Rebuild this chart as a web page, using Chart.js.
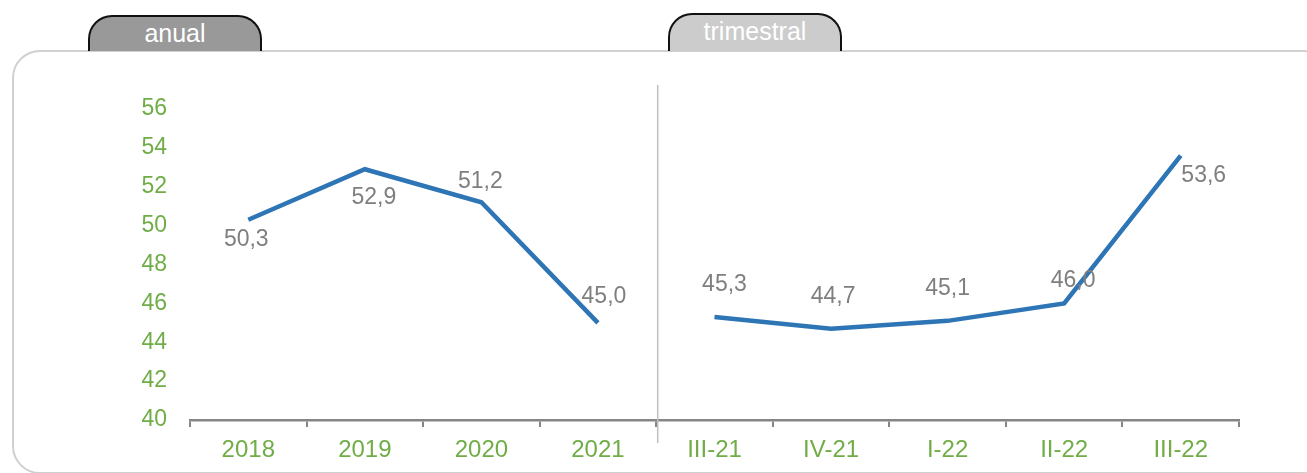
<!DOCTYPE html>
<html>
<head>
<meta charset="utf-8">
<script src="https://cdn.jsdelivr.net/npm/chart.js@4/dist/chart.umd.min.js"></script>
<style>
  html, body { margin: 0; padding: 0; background: #fff; }
  body { width: 1307px; height: 473px; position: relative; overflow: hidden; font-family: "Liberation Sans", Arial, sans-serif; }
  .frame { position: absolute; left: 12px; top: 50px; width: 1320px; height: 424px; border: 2px solid #d0d0d0; border-radius: 28px; box-sizing: border-box; }
  .tab { position: absolute; height: 36px; box-sizing: border-box; border: 2px solid #111; border-bottom: none; border-radius: 24px 24px 0 0; color: #fff; font-size: 25px; text-align: center; line-height: 32px; z-index: 2; }
  .tab.anual { left: 88px; top: 15px; width: 174px; background: #999999; }
  .tab.trim { left: 668px; top: 13px; width: 174px; height: 38px; background: #cccccc; }
  #chart { position: absolute; left: 0; top: 0; z-index: 3; }
</style>
</head>
<body>
<div class="frame"></div>
<div class="tab anual">anual</div>
<div class="tab trim">trimestral</div>
<canvas id="chart" width="1307" height="473"></canvas>
<script>
// datos
const annualLabels = ['2018', '2019', '2020', '2021'];
const annualValues = [50.3, 52.9, 51.2, 45.0];
const quarterLabels = ['III-21', 'IV-21', 'I-22', 'II-22', 'III-22'];
const quarterValues = [45.3, 44.7, 45.1, 46.0, 53.6];
const yTicks = [40, 42, 44, 46, 48, 50, 52, 54, 56];

// desplazamiento de cada etiqueta respecto a su punto (dx, dy)
const labelOffsets = [[-2, 20], [9, 28], [-1, -21], [6, -26], [10, -32], [2, -32], [0, -32], [9, -23], [23, 20]];

const labels = annualLabels.concat(quarterLabels);
const annualData = annualValues.concat(quarterLabels.map(() => null));
const quarterData = annualLabels.map(() => null).concat(quarterValues);

const GREEN = '#70ad47';
const AXIS = '#868686';
const LINE = '#2e75b6';

const lineStyle = {
    borderColor: LINE,
    borderWidth: 4.5,
    pointRadius: 0,
    tension: 0,
    fill: false,
    spanGaps: false
};

// separador vertical entre anual y trimestral
const separator = {
    id: 'separator',
    beforeDatasetsDraw(chart) {
        const x = chart.scales.x;
        const area = chart.chartArea;
        const px = (x.getPixelForValue(annualLabels.length - 1) + x.getPixelForValue(annualLabels.length)) / 2 + 1.5;
        const ctx = chart.ctx;
        ctx.save();
        ctx.strokeStyle = '#bfbfbf';
        ctx.lineWidth = 1.5;
        ctx.beginPath();
        ctx.moveTo(px, area.top - 24);
        ctx.lineTo(px, area.bottom + 23);
        ctx.stroke();
        ctx.restore();
    }
};

// etiquetas de valores
const valueLabels = {
    id: 'valueLabels',
    afterDatasetsDraw(chart) {
        const ctx = chart.ctx;
        ctx.save();
        ctx.fillStyle = '#7f7f7f';
        ctx.font = '23px "Liberation Sans", Arial, sans-serif';
        ctx.textAlign = 'center';
        ctx.textBaseline = 'middle';
        chart.data.datasets.forEach((ds, di) => {
            const meta = chart.getDatasetMeta(di);
            ds.data.forEach((v, i) => {
                if (v === null) return;
                const pt = meta.data[i];
                const off = labelOffsets[i];
                ctx.fillText(v.toFixed(1).replace('.', ','), pt.x + off[0], pt.y + off[1]);
            });
        });
        ctx.restore();
    }
};

new Chart(document.getElementById('chart').getContext('2d'), {
    type: 'line',
    data: {
        labels: labels,
        datasets: [
            Object.assign({ label: 'anual', data: annualData }, lineStyle),
            Object.assign({ label: 'trimestral', data: quarterData }, lineStyle)
        ]
    },
    options: {
        responsive: false,
        animation: false,
        layout: { padding: { top: 109, right: 68, left: 0, bottom: 0 } },
        plugins: {
            legend: { display: false },
            tooltip: { enabled: false }
        },
        scales: {
            x: {
                offset: true,
                afterFit: (s) => { s.height = 53; },
                grid: {
                    display: true,
                    drawOnChartArea: false,
                    offset: true,
                    tickLength: 7,
                    color: AXIS,
                    lineWidth: 2
                },
                border: { display: true, color: AXIS, width: 2.5 },
                ticks: {
                    color: GREEN,
                    font: { family: '"Liberation Sans", Arial, sans-serif', size: 24 },
                    padding: 9,
                    maxRotation: 0,
                    autoSkip: false
                }
            },
            y: {
                min: 40,
                max: 56,
                afterFit: (s) => { s.width = 190; },
                afterBuildTicks: (s) => { s.ticks = yTicks.map(v => ({ value: v })); },
                grid: { display: false, drawTicks: false },
                border: { display: false },
                ticks: {
                    color: GREEN,
                    font: { family: '"Liberation Sans", Arial, sans-serif', size: 23 },
                    padding: 23
                }
            }
        }
    },
    plugins: [separator, valueLabels]
});
</script>
</body>
</html>
